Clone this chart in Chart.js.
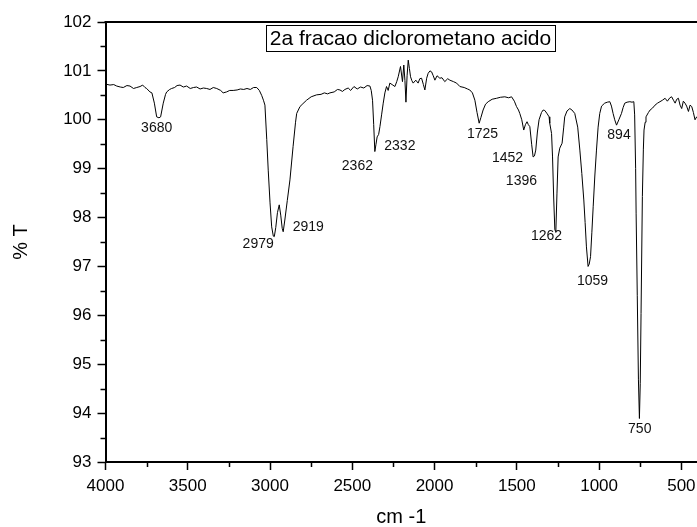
<!DOCTYPE html>
<html>
<head>
<meta charset="utf-8">
<script src="https://cdn.jsdelivr.net/npm/chart.js@4.4.1/dist/chart.umd.min.js"></script>
<style>
  html, body { margin: 0; padding: 0; background: #fff; }
  canvas { display: block; }
</style>
</head>
<body>
<canvas id="irChart" width="697" height="527"></canvas>
<script>
// Espectro IR - 2a fracao diclorometano acido
const wavenumbers = [
  4000, 3973, 3950, 3932, 3910, 3892, 3870, 3851, 3830, 3810, 3790, 3774, 3760, 3750, 3730, 3718,
  3703, 3689, 3675, 3665, 3649, 3635, 3628, 3610, 3598, 3580, 3565, 3547, 3527, 3507, 3485, 3465,
  3446, 3425, 3405, 3385, 3365, 3345, 3324, 3300, 3285, 3264, 3245, 3224, 3200, 3180, 3160, 3140,
  3120, 3100, 3081, 3065, 3051, 3040, 3031, 3020, 3011, 3000, 2990, 2980, 2974, 2965, 2955, 2944,
  2935, 2926, 2920, 2910, 2895, 2879, 2860, 2845, 2838, 2818, 2800, 2778, 2750, 2717, 2690, 2670,
  2650, 2636, 2610, 2590, 2575, 2560, 2545, 2525, 2510, 2490, 2470, 2450, 2430, 2410, 2393, 2385,
  2377, 2370, 2363, 2356, 2349, 2340, 2332, 2322, 2312, 2302, 2292, 2282, 2272, 2258, 2241, 2230,
  2221, 2207, 2195, 2187, 2180, 2174, 2167, 2160, 2153, 2146, 2138, 2130, 2114, 2100, 2090, 2079,
  2068, 2059, 2048, 2039, 2028, 2018, 2008, 1998, 1985, 1968, 1955, 1938, 1920, 1907, 1885, 1866,
  1846, 1820, 1800, 1786, 1770, 1755, 1742, 1729, 1718, 1705, 1690, 1674, 1650, 1623, 1600, 1573,
  1550, 1532, 1515, 1502, 1490, 1482, 1470, 1458, 1448, 1438, 1430, 1421, 1410, 1401, 1393, 1385,
  1375, 1365, 1350, 1340, 1330, 1315, 1304, 1300, 1289, 1283, 1276, 1269, 1263, 1256, 1249, 1239,
  1225, 1215, 1209, 1195, 1178, 1165, 1148, 1130, 1117, 1105, 1093, 1085, 1077, 1067, 1060, 1052,
  1044, 1036, 1026, 1016, 1006, 996, 985, 966, 950, 935, 925, 915, 905, 894, 880, 864,
  854, 844, 830, 813, 800, 789, 784, 778, 775, 768, 761, 755, 750, 745, 737, 731,
  727, 720, 715, 700, 690, 675, 660, 645, 630, 615, 599, 585, 570, 559, 548, 538,
  528, 518, 508, 498, 488, 478, 468, 457, 447, 437, 427, 417, 407, 400
];
const transmittance = [
  100.73, 100.71, 100.72, 100.69, 100.67, 100.66, 100.70, 100.69, 100.64, 100.66, 100.68, 100.71, 100.66, 100.64, 100.57, 100.55,
  100.34, 100.06, 100.04, 100.06, 100.34, 100.52, 100.57, 100.62, 100.64, 100.66, 100.70, 100.71, 100.67, 100.69, 100.64, 100.66,
  100.67, 100.63, 100.65, 100.64, 100.62, 100.66, 100.64, 100.60, 100.55, 100.57, 100.60, 100.60, 100.61, 100.63, 100.62, 100.64,
  100.62, 100.66, 100.66, 100.60, 100.50, 100.40, 100.30, 99.60, 98.97, 98.30, 97.81, 97.62, 97.61, 97.80, 98.10, 98.26,
  98.05, 97.78, 97.71, 97.95, 98.35, 98.77, 99.45, 99.95, 100.13, 100.27, 100.33, 100.40, 100.47, 100.51, 100.52, 100.55,
  100.53, 100.55, 100.57, 100.62, 100.61, 100.58, 100.62, 100.65, 100.60, 100.68, 100.63, 100.67, 100.65, 100.70, 100.69, 100.60,
  100.40, 99.90, 99.35, 99.50, 99.65, 99.70, 99.86, 100.10, 100.34, 100.55, 100.68, 100.60, 100.75, 100.72, 100.68, 100.78,
  100.88, 101.09, 100.78, 101.12, 100.80, 100.36, 100.90, 101.22, 101.05, 100.88, 100.80, 100.75, 100.81, 100.75, 100.84, 100.85,
  100.72, 100.61, 100.85, 100.95, 101.00, 100.98, 100.90, 100.81, 100.90, 100.85, 100.86, 100.78, 100.84, 100.81, 100.78, 100.75,
  100.68, 100.66, 100.63, 100.61, 100.55, 100.40, 100.15, 99.93, 100.05, 100.20, 100.32, 100.37, 100.42, 100.44, 100.46, 100.47,
  100.45, 100.47, 100.38, 100.27, 100.20, 100.13, 100.00, 99.79, 99.90, 99.96, 99.90, 99.86, 99.50, 99.24, 99.26, 99.38,
  99.75, 100.00, 100.15, 100.20, 100.19, 100.12, 100.06, 99.93, 99.72, 99.24, 98.40, 97.75, 97.71, 98.50, 99.24, 99.42,
  99.52, 99.85, 100.06, 100.18, 100.23, 100.20, 100.13, 99.85, 99.38, 98.90, 98.36, 97.90, 97.40, 97.00, 97.05, 97.20,
  97.70, 98.22, 98.85, 99.38, 99.85, 100.13, 100.28, 100.34, 100.36, 100.37, 100.28, 100.13, 100.00, 99.89, 100.00, 100.13,
  100.25, 100.34, 100.36, 100.37, 100.36, 100.37, 100.10, 99.00, 98.09, 96.40, 94.68, 93.89, 94.60, 96.04, 98.43, 99.40,
  99.79, 99.95, 100.06, 100.15, 100.20, 100.24, 100.30, 100.34, 100.37, 100.40, 100.44, 100.38, 100.45, 100.47, 100.40, 100.34,
  100.42, 100.44, 100.30, 100.23, 100.38, 100.34, 100.28, 100.17, 100.30, 100.27, 100.15, 100.00, 100.06, 100.02
];

// rotulos dos picos: texto, posicao (cm-1, %T) do centro do texto
const peakNames = ['3680', '2979', '2919', '2362', '2332', '1725', '1452', '1396', '1262', '1059', '894', '750'];
const peakLabelX = [3689, 3072, 2768, 2469, 2211, 1709, 1557, 1472, 1320, 1040, 879, 753];
const peakLabelY = [99.83, 97.45, 97.81, 99.06, 99.47, 99.70, 99.22, 98.75, 97.61, 96.69, 99.69, 93.68];

const xMajorTicks = [4000, 3500, 3000, 2500, 2000, 1500, 1000, 500];
const xMinorTicks = [3750, 3250, 2750, 2250, 1750, 1250, 750];
const yMinorTicks = [93.5, 94.5, 95.5, 96.5, 97.5, 98.5, 99.5, 100.5, 101.5];

const chartTitle = '2a fracao diclorometano acido';
const FONT = '"Liberation Sans", Arial, sans-serif';

const points = wavenumbers.map((w, i) => ({ x: w, y: transmittance[i] }));

// eixo de cima, ticks menores, caixa do titulo e rotulos dos picos
const extras = {
    id: 'extras',
    afterDraw(chart) {
        const { ctx, chartArea } = chart;
        const xs = chart.scales.x;
        const ys = chart.scales.y;
        ctx.save();
        ctx.strokeStyle = '#000';

        ctx.lineWidth = 2;
        ctx.beginPath();
        ctx.moveTo(chartArea.left - 1, chartArea.top);
        ctx.lineTo(chartArea.right + 1, chartArea.top);
        ctx.stroke();

        ctx.lineWidth = 1.5;
        ctx.beginPath();
        yMinorTicks.forEach(v => {
            const py = Math.round(ys.getPixelForValue(v)) + 0.5;
            ctx.moveTo(chartArea.left - 5, py);
            ctx.lineTo(chartArea.left, py);
        });
        xMinorTicks.forEach(v => {
            const px = Math.round(xs.getPixelForValue(v)) + 0.5;
            ctx.moveTo(px, chartArea.bottom);
            ctx.lineTo(px, chartArea.bottom + 5);
        });
        ctx.stroke();

        // titulo com moldura
        ctx.font = '21px ' + FONT;
        ctx.fillStyle = '#000';
        ctx.textAlign = 'center';
        ctx.textBaseline = 'middle';
        const tw = ctx.measureText(chartTitle).width;
        const cx = 410.5, cy = 38;
        ctx.lineWidth = 1;
        ctx.strokeRect(Math.round(cx - tw / 2 - 4) + 0.5, cy - 13 + 0.5, Math.round(tw + 8), 26);
        ctx.fillText(chartTitle, cx, cy + 1);

        // rotulos dos picos
        ctx.font = '14px ' + FONT;
        ctx.fillStyle = '#111';
        peakNames.forEach((name, i) => {
            ctx.fillText(name, xs.getPixelForValue(peakLabelX[i]), ys.getPixelForValue(peakLabelY[i]));
        });
        ctx.restore();
    }
};

new Chart(document.getElementById('irChart'), {
    type: 'line',
    data: {
        datasets: [{
            data: points,
            borderColor: '#000',
            borderWidth: 1,
            pointRadius: 0,
            tension: 0,
            fill: false
        }]
    },
    options: {
        responsive: false,
        animation: false,
        layout: { padding: { top: 22, right: 0, left: 0, bottom: 0 } },
        plugins: {
            legend: { display: false },
            tooltip: { enabled: false }
        },
        scales: {
            x: {
                type: 'linear',
                reverse: true,
                min: 405,
                max: 4000,
                afterBuildTicks: scale => {
                    scale.ticks = xMajorTicks.map(v => ({ value: v }));
                },
                afterFit: scale => {
                    scale.height = 65;
                    scale.paddingLeft = 0;
                    scale.paddingRight = 0;
                },
                border: { display: true, color: '#000', width: 2 },
                grid: { drawOnChartArea: false, drawTicks: true, tickLength: 8, tickWidth: 1.5, tickColor: '#000' },
                ticks: {
                    color: '#000',
                    padding: 6,
                    maxRotation: 0,
                    autoSkip: false,
                    font: { family: FONT, size: 17 },
                    callback: v => String(v)
                },
                title: {
                    display: true,
                    text: 'cm -1',
                    color: '#000',
                    font: { family: FONT, size: 20, lineHeight: 1 },
                    padding: { top: 0, bottom: 0 }
                }
            },
            y: {
                min: 93,
                max: 102,
                afterFit: scale => {
                    scale.width = 105.5;
                    scale.paddingTop = 0;
                    scale.paddingBottom = 0;
                },
                border: { display: true, color: '#000', width: 2 },
                grid: { drawOnChartArea: false, drawTicks: true, tickLength: 8, tickWidth: 1.5, tickColor: '#000' },
                ticks: {
                    stepSize: 1,
                    color: '#000',
                    padding: 6,
                    font: { family: FONT, size: 17 }
                },
                title: {
                    display: true,
                    text: '% T',
                    color: '#000',
                    font: { family: FONT, size: 20, lineHeight: 1 },
                    padding: { top: 11, bottom: 0 }
                }
            }
        }
    },
    plugins: [extras]
});
</script>
</body>
</html>
